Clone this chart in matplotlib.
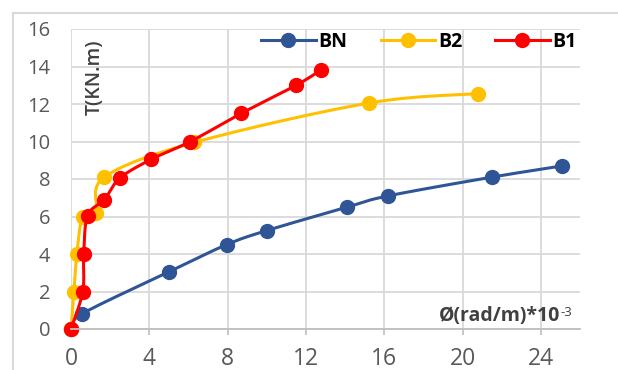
import numpy as np
import matplotlib
matplotlib.use("Agg")
import matplotlib.pyplot as plt
from matplotlib.lines import Line2D

# Torque T (kN.m) versus twist angle phi (rad/m * 1e-3) for three beams
bn_phi = [0.0, 0.55, 5.0, 7.95, 10.0, 14.1, 16.2, 21.5, 25.1]
bn_t = [0.0, 0.8, 3.05, 4.5, 5.25, 6.5, 7.1, 8.1, 8.7]

b2_phi = [0.0, 0.15, 0.3, 0.6, 1.3, 1.7, 6.3, 15.2, 20.8]
b2_t = [0.0, 2.0, 4.0, 6.0, 6.2, 8.1, 9.95, 12.05, 12.55]

b1_phi = [0.0, 0.6, 0.65, 0.85, 1.7, 2.5, 4.1, 6.1, 8.7, 11.5, 12.75]
b1_t = [0.0, 2.0, 4.0, 6.05, 6.9, 8.05, 9.05, 10.0, 11.5, 13.0, 13.8]

series_names = ["BN", "B2", "B1"]
series_colors = ["#2F5597", "#FFC000", "#FF0000"]

x_ticks = [0, 4, 8, 12, 16, 20, 24]
y_ticks = [0, 2, 4, 6, 8, 10, 12, 14, 16]

FONT = ["Open Sans", "DejaVu Sans"]
plt.rcParams["font.family"] = FONT


def smooth_curve(xs, ys, n=24):
    """Cubic Bezier smoothing through the points (spreadsheet-style smooth line)."""
    pts = np.column_stack([xs, ys]).astype(float)
    out = [pts[0]]
    t = np.linspace(0, 1, n)[1:, None]
    for i in range(len(pts) - 1):
        p0 = pts[i - 1] if i > 0 else pts[i]
        p1 = pts[i]
        p2 = pts[i + 1]
        p3 = pts[i + 2] if i + 2 < len(pts) else pts[i + 1]
        c1 = p1 + (p2 - p0) / 6.0
        c2 = p2 - (p3 - p1) / 6.0
        seg = ((1 - t) ** 3) * p1 + 3 * ((1 - t) ** 2) * t * c1 \
            + 3 * (1 - t) * t ** 2 * c2 + t ** 3 * p2
        out.extend(seg)
    out = np.array(out)
    return out[:, 0], out[:, 1]


W, H = 618, 370
fig = plt.figure(figsize=(W / 100, H / 100), dpi=100)
fig.patch.set_facecolor("white")

# outer chart frame (top and left edges)
frame_col = "#D9D9D9"
fig.add_artist(Line2D([12.5 / W, 12.5 / W], [0, 1 - 13 / H], color=frame_col,
                      lw=1.5, transform=fig.transFigure))
fig.add_artist(Line2D([12.5 / W, 1], [1 - 13 / H, 1 - 13 / H], color=frame_col,
                      lw=1.5, transform=fig.transFigure))

left, right, top, bottom = 71, 580, 29, 329
ax = fig.add_axes([left / W, 1 - bottom / H, (right - left) / W, (bottom - top) / H])
ax.set_xlim(0, 26)
ax.set_ylim(0, 16)
ax.set_xticks(x_ticks)
ax.set_yticks(y_ticks)

for s in ["top", "right", "left"]:
    ax.spines[s].set_visible(False)
ax.spines["bottom"].set_color("#BFBFBF")
ax.spines["bottom"].set_linewidth(1.3)

ax.grid(True, color="#D9D9D9", linewidth=1.3)
ax.set_axisbelow(True)

ax.tick_params(axis="y", length=0, pad=15, labelsize=14.5, labelcolor="#595959")
ax.tick_params(axis="x", length=4, width=1.2, color="#BFBFBF", pad=9,
               labelsize=16.5, labelcolor="#595959")

data = [(bn_phi, bn_t), (b2_phi, b2_t), (b1_phi, b1_t)]
handles = []
for (xs, ys), name, col in zip(data, series_names, series_colors):
    sx, sy = smooth_curve(xs, ys)
    ax.plot(sx, sy, color=col, lw=2.2, solid_capstyle="round", clip_on=False)
    ax.plot(xs, ys, "o", color=col, markersize=10, clip_on=False)
    handles.append(Line2D([], [], color=col, lw=2.2, marker="o", markersize=10))

ax.text((95 - left) / (right - left), (bottom - 77) / (bottom - top), "T(KN.m)",
        rotation=90, ha="center", va="center", fontsize=14, fontweight="semibold",
        color="#404040", transform=ax.transAxes)

xl = ax.text((560 - left) / (right - left), (bottom - 316) / (bottom - top),
             "Ø(rad/m)*10", ha="right", va="center", fontsize=14,
             fontweight="bold", color="#404040", transform=ax.transAxes)
ax.annotate("-3", xy=(1, 1.0), xycoords=xl, xytext=(0.5, 0), textcoords="offset points",
            ha="left", va="top", fontsize=9.5, color="#404040")

fig.legend(handles, series_names, loc="center",
           bbox_to_anchor=(419 / W, 1 - 42 / H), ncol=3, frameon=False,
           handlelength=2.8, handletextpad=0.15, columnspacing=1.7,
           prop={"family": FONT, "weight": "bold", "size": 14})

fig.savefig("out.png", dpi=100, facecolor="white")
